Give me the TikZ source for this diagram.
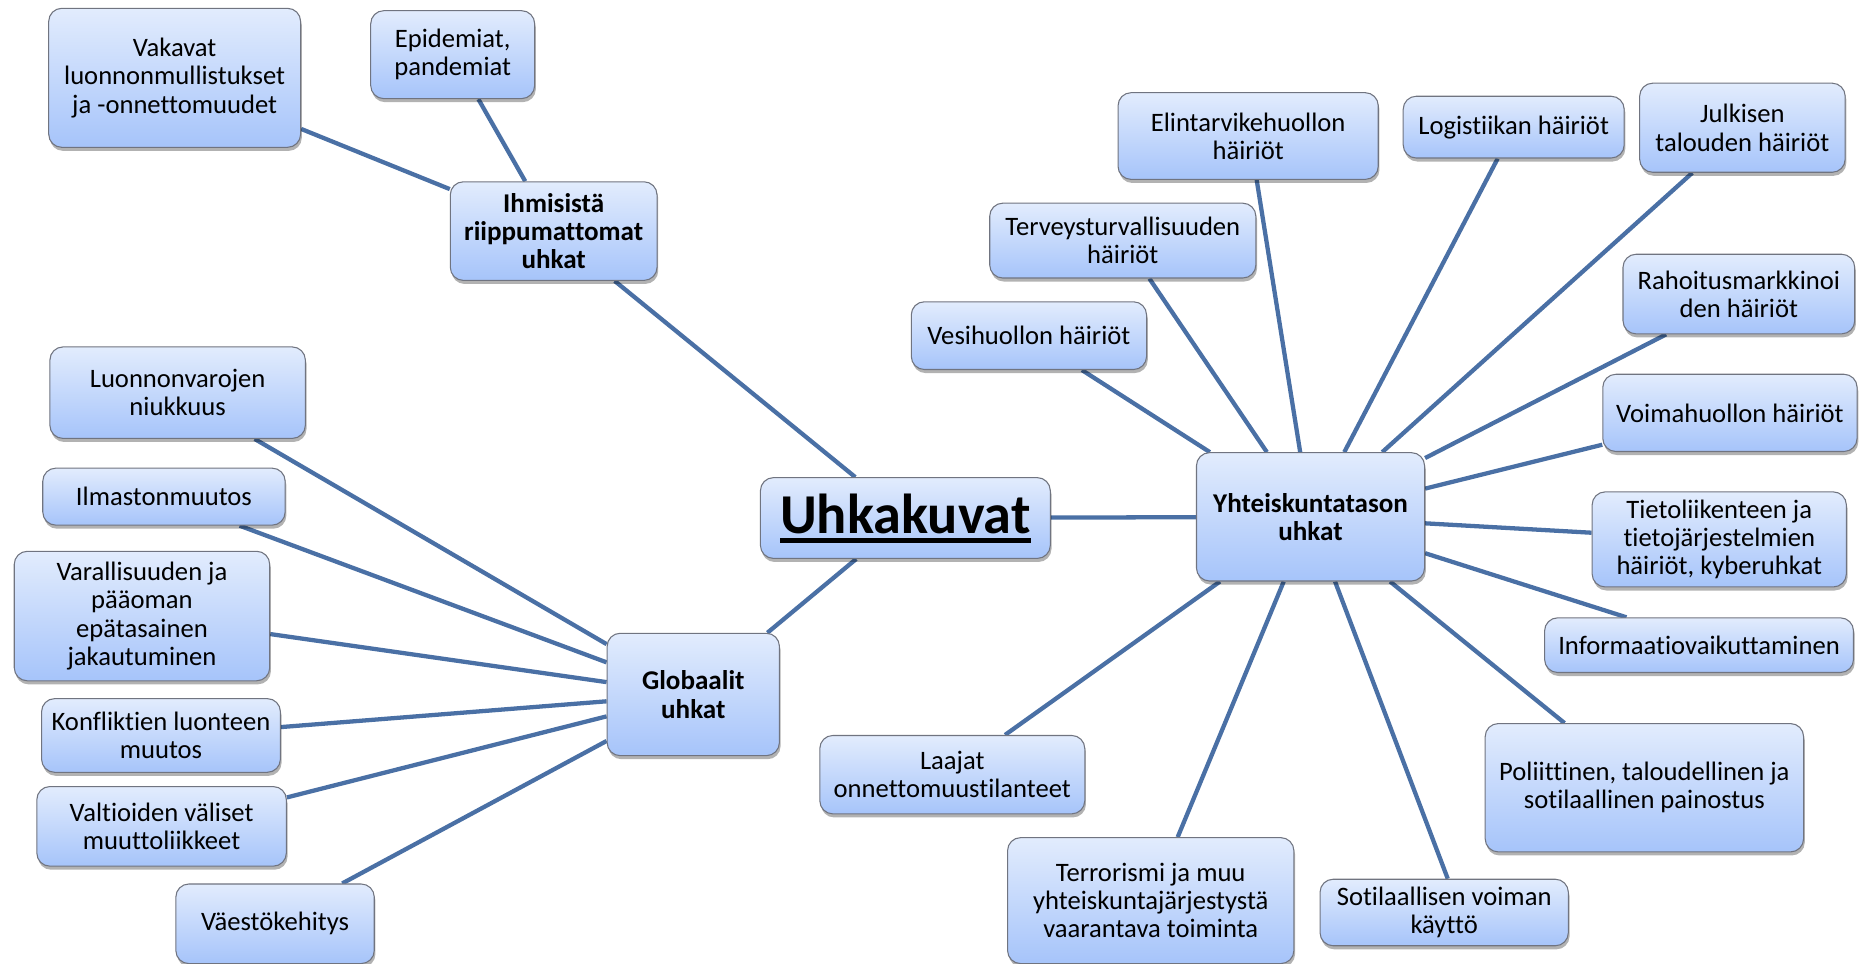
\documentclass[tikz,border=0pt]{standalone}
\usepackage{fontspec}
\setmainfont[Ligatures=NoCommon]{Carlito}
\usetikzlibrary{shadows,backgrounds}
\definecolor{boxtop}{RGB}{226,236,253}
\definecolor{boxbot}{RGB}{166,196,250}
\definecolor{boxline}{RGB}{112,116,128}
\definecolor{linkc}{RGB}{74,112,165}
\newcommand\myul[1]{\setbox0\hbox{#1}\rlap{\rule[-0.17em]{\wd0}{0.075em}}\box0}
\begin{document}
\begin{tikzpicture}[x=1pt,y=-1pt,
  box/.style={draw=boxline, line width=0.9pt, rounded corners=11pt,
    top color=boxtop, bottom color=boxbot, align=center, inner sep=2pt,
    font=\fontsize{22.4}{23.8}\selectfont,
    drop shadow={shadow xshift=1pt, shadow yshift=-3pt, opacity=0.3, fill=black}},
  hub/.style={box, font=\fontsize{22.8}{23.8}\selectfont\bfseries},
  wh/.style 2 args={minimum width=#1pt, minimum height=#2pt},
  link/.style={draw=linkc, line width=3.6pt}]
\useasboundingbox (0,0) rectangle (1568,811);

% hubs
\node[box, wh={244}{68}, font=\fontsize{47.4}{50}\selectfont\bfseries] (uhk) at (762,436) {\myul{Uhkakuvat}};
\node[hub, wh={174}{83}] (ihm) at (466,194.5) {Ihmisistä\\riippumattomat\\uhkat};
\node[hub, wh={192}{108}] (yht) at (1103,435) {Yhteiskuntatason\\uhkat};
\node[hub, wh={145}{103}] (glo) at (583.5,584.5) {Globaalit\\uhkat};

% human-independent
\node[box, wh={212}{117}] (vak) at (147,65.5) {Vakavat\\luonnonmullistukset\\ja -onnettomuudet};
\node[box, wh={138}{74}] (epi) at (381,46) {Epidemiat,\\pandemiat};

% global
\node[box, wh={215}{77}] (luo) at (149.5,330.5) {Luonnonvarojen\\niukkuus};
\node[box, wh={204}{48}] (ilm) at (138,418) {Ilmastonmuutos};
\node[box, wh={215}{109}] (var) at (119.5,518.5) {Varallisuuden ja\\pääoman\\epätasainen\\jakautuminen};
\node[box, wh={201}{62}] (kon) at (135.5,619) {Konfliktien luonteen\\muutos};
\node[box, wh={210}{67}] (val) at (136,695.5) {Valtioiden väliset\\muuttoliikkeet};
\node[box, wh={167}{67}] (vae) at (231.5,777.5) {Väestökehitys};

% society
\node[box, wh={219}{73}] (eli) at (1050.5,114.5) {Elintarvikehuollon\\häiriöt};
\node[box, wh={186}{52}] (log) at (1274,107) {Logistiikan häiriöt};
\node[box, wh={173}{75}] (jul) at (1466.5,107.5) {Julkisen\\talouden häiriöt};
\node[box, wh={224}{63}] (ter) at (945,202.5) {Terveysturvallisuuden\\häiriöt};
\node[box, wh={198}{57}] (ves) at (866,282.5) {Vesihuollon häiriöt};
\node[box, wh={195}{67}] (rah) at (1463.5,247.5) {Rahoitusmarkkinoi\\den häiriöt};
\node[box, wh={214}{65}] (voi) at (1456,347.5) {Voimahuollon häiriöt};
\node[box, wh={214}{80}] (tie) at (1447,454) {Tietoliikenteen ja\\tietojärjestelmien\\häiriöt, kyberuhkat};
\node[box, wh={260}{46}] (inf) at (1430,543) {Informaatiovaikuttaminen};
\node[box, wh={223}{66}] (laa) at (801.5,652) {Laajat\\onnettomuustilanteet};
\node[box, wh={241}{106}] (tro) at (968.5,758) {Terrorismi ja muu\\yhteiskuntajärjestystä\\vaarantava toiminta};
\node[box, wh={209}{56}] (sot) at (1215.5,768) {Sotilaallisen voiman\\käyttö};
\node[box, wh={268}{108}] (pol) at (1384,663) {Poliittinen, taloudellinen ja\\sotilaallinen painostus};

\begin{scope}[on background layer]
  \draw[link] (ihm) -- (uhk);
  \draw[link] (uhk) -- (yht);
  \draw[link] (uhk) -- (glo);
  \draw[link] (ihm) -- (vak.-22);
  \draw[link] (ihm) -- (epi.-60);
  \draw[link] (glo) -- (luo.-31);
  \draw[link] (glo) -- (ilm.-21);
  \draw[link] (glo) -- (var.-8.6);
  \draw[link] (glo) -- (kon.4.6);
  \draw[link] (glo) -- (val.13.7);
  \draw[link] (glo) -- (vae.31);
  \draw[link] (yht) -- (eli.-79.9);
  \draw[link] (yht) -- (log.-117.4);
  \draw[link] (yht) -- (jul.-138.5);
  \draw[link] (yht) -- (ter.-55.1);
  \draw[link] (yht) -- (ves.-33.2);
  \draw[link] (yht) -- (rah.-151.9);
  \draw[link] (yht) -- (voi.-166.1);
  \draw[link] (yht) -- (tie.177.3);
  \draw[link] (yht) -- (inf.159.7);
  \draw[link] (yht) -- (laa.37);
  \draw[link] (yht) -- (tro.67.4);
  \draw[link] (yht) -- (sot.84.9);
  \draw[link] (yht) -- (pol.141.5);
\end{scope}
\end{tikzpicture}
\end{document}
